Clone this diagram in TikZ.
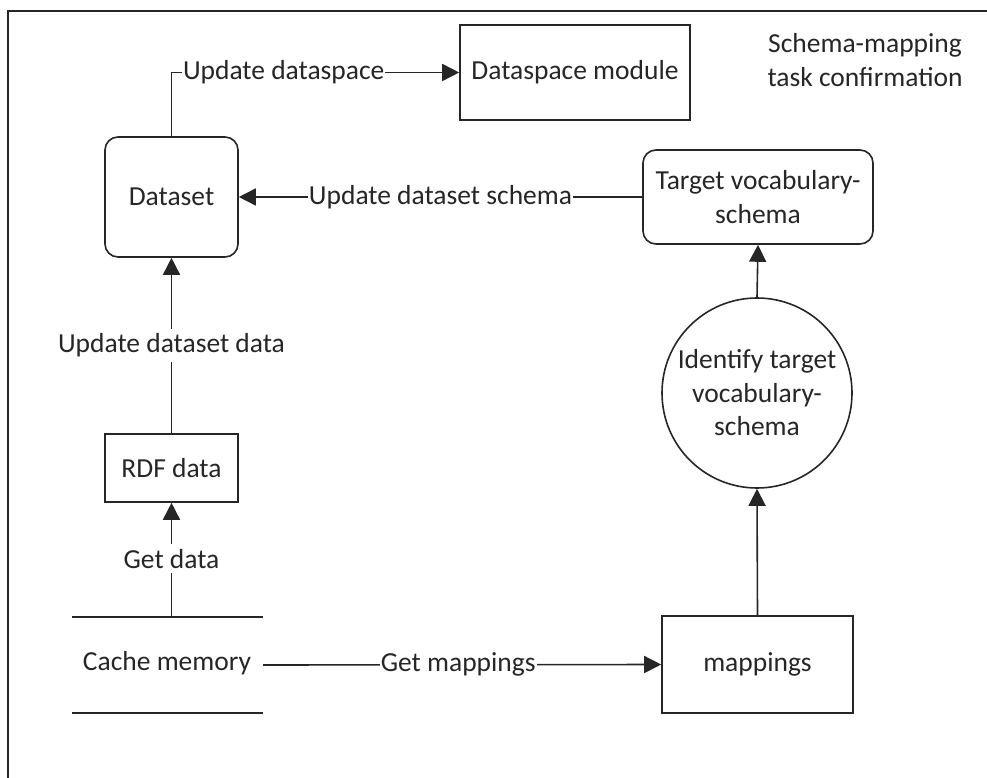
\documentclass[tikz,border=0pt]{standalone}
\usepackage{fontspec}
\setmainfont{Carlito}
\usetikzlibrary{arrows.meta}

\begin{document}
\begin{tikzpicture}[x=1pt,y=-1pt,
  font=\fontsize{27.5}{33.5}\selectfont,
  every node/.style={text=black!85},
  line/.style={draw=black!85,line width=1.6pt},
  arr/.style={line,-{Triangle[length=17pt,width=17pt]}},
  sqbox/.style={line,rectangle,inner sep=0pt,align=center},
  rbox/.style={line,rectangle,rounded corners=13pt,inner sep=0pt,align=center},
  proc/.style={line,circle,inner sep=0pt,minimum size=190pt,align=center},
  lbl/.style={fill=white,inner xsep=1pt,inner ysep=5pt}]

\useasboundingbox (0,0) rectangle (987,778);

% outer frame
\draw[line width=2.6pt,draw=black!85] (8,780) -- (8,11) -- (990,11);

% nodes
\node[sqbox,minimum width=230pt,minimum height=95pt] (dsm) at (575,72.5) {Dataspace module};
\node[align=center] (title) at (865,60) {Schema-mapping\\task confirmation};
\node[rbox,minimum width=133pt,minimum height=120pt] (ds) at (171.5,197) {Dataset};
\node[rbox,minimum width=230pt,minimum height=94pt] (tvs) at (758,197) {Target vocabulary-\\schema};
\node[proc] (idt) at (757,393) {Identify target\\vocabulary-\\schema};
\node[sqbox,minimum width=133pt,minimum height=68pt] (rdf) at (171.5,468) {RDF data};
\node[sqbox,minimum width=191pt,minimum height=97pt] (map) at (757.5,664.5) {mappings};
\node[minimum width=191pt,minimum height=96pt,inner sep=0pt] (cache) at (167.5,665) {};
\node at (167,663) {Cache memory};

% data store lines
\draw[line] (cache.north west) -- (cache.north east);
\draw[line] (cache.south west) -- (cache.south east);

% connectors
\draw[arr] (ds.north) |- (dsm.west) node[lbl,pos=0.695] {Update dataspace};
\draw[arr] (tvs.west) -- (ds.east) node[lbl,pos=0.5] {Update dataset schema};
\draw[arr] (idt.north) -- (tvs.south);
\draw[arr] (map.north) -- (idt.south);
\draw[arr] (cache.east) -- (map.west) node[lbl,pos=0.49] {Get mappings};
\draw[arr] (rdf.south |- cache.north) -- (rdf.south) node[lbl,pos=0.51] {Get data};
\draw[arr] (rdf.north) -- (ds.south) node[lbl,pos=0.5] {Update dataset data};

\end{tikzpicture}
\end{document}
